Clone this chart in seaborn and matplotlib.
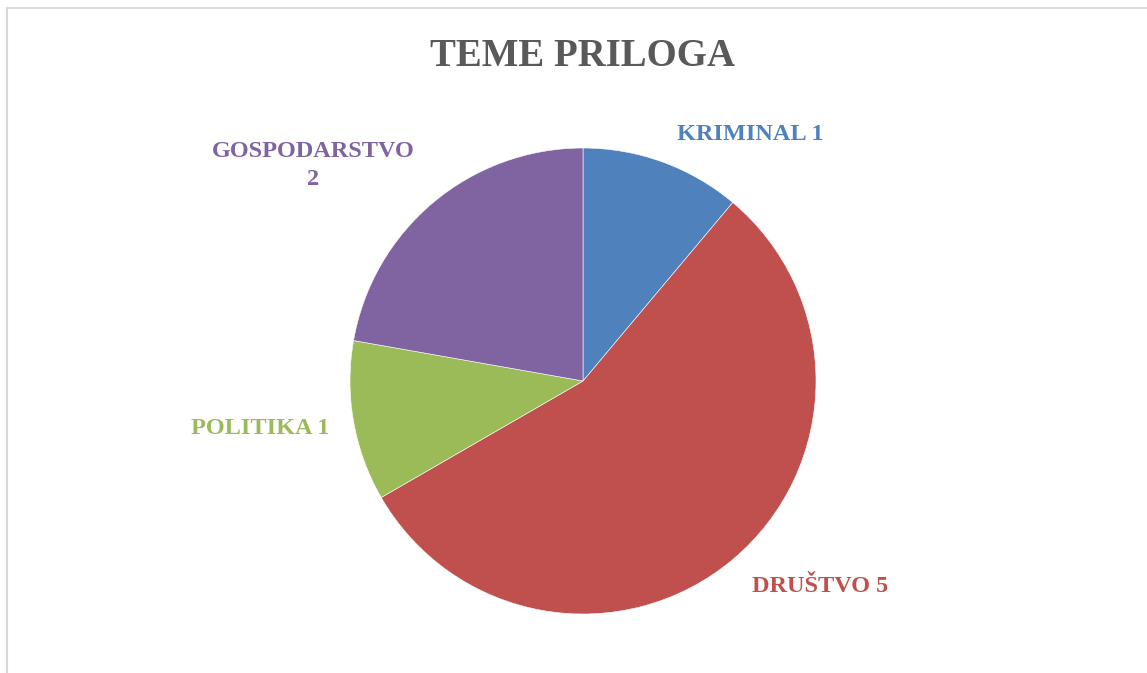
"""
Pie chart of article topics (TEME PRILOGA)
"""

import matplotlib
matplotlib.use('Agg')
import matplotlib.pyplot as plt
import seaborn as sns
from matplotlib.patches import Rectangle

# Data
categories = ['KRIMINAL', 'DRUŠTVO', 'POLITIKA', 'GOSPODARSTVO']
values = [1, 5, 1, 2]
colors = ['#4F81BD', '#C0504D', '#9BBB59', '#8064A2']
label_texts = ['KRIMINAL 1', 'DRUŠTVO 5', 'POLITIKA 1', 'GOSPODARSTVO\n2']

# label positions, in units of pie radius
label_pos = [(0.717, 1.056), (1.017, -0.884), (-1.386, -0.202), (-1.159, 0.925)]

sns.set_theme(style='white')
plt.rcParams['font.family'] = ['Liberation Serif', 'DejaVu Serif']

W, H = 1147, 673
fig = plt.figure(figsize=(W / 100, H / 100), dpi=100)
fig.patch.set_facecolor('white')

# chart area border (light grey frame)
fig.add_artist(Rectangle((7 / W, -0.05), 1.2, (H - 8) / H + 0.05,
                         transform=fig.transFigure, fill=False,
                         edgecolor='#D9D9D9', linewidth=1.5))

cx, cy, r = 583, 381, 233
ax = fig.add_axes([(cx - r) / W, (H - cy - r) / H, 2 * r / W, 2 * r / H])
ax.pie(values, colors=colors, startangle=90, counterclock=False,
       radius=1, wedgeprops=dict(edgecolor='white', linewidth=0.4))
ax.set_xlim(-1, 1)
ax.set_ylim(-1, 1)
ax.set_aspect('equal')
ax.axis('off')

for txt, (x, y), c in zip(label_texts, label_pos, colors):
    ax.text(x, y, txt, color=c, fontsize=17.5, fontweight='bold',
            ha='center', va='center', linespacing=1.4, clip_on=False)

fig.text(582 / W, 1 - 56 / H, 'TEME PRILOGA', color='#595959',
         fontsize=28, fontweight='bold', ha='center', va='center')

plt.savefig('out.png', dpi=100)
plt.close()
